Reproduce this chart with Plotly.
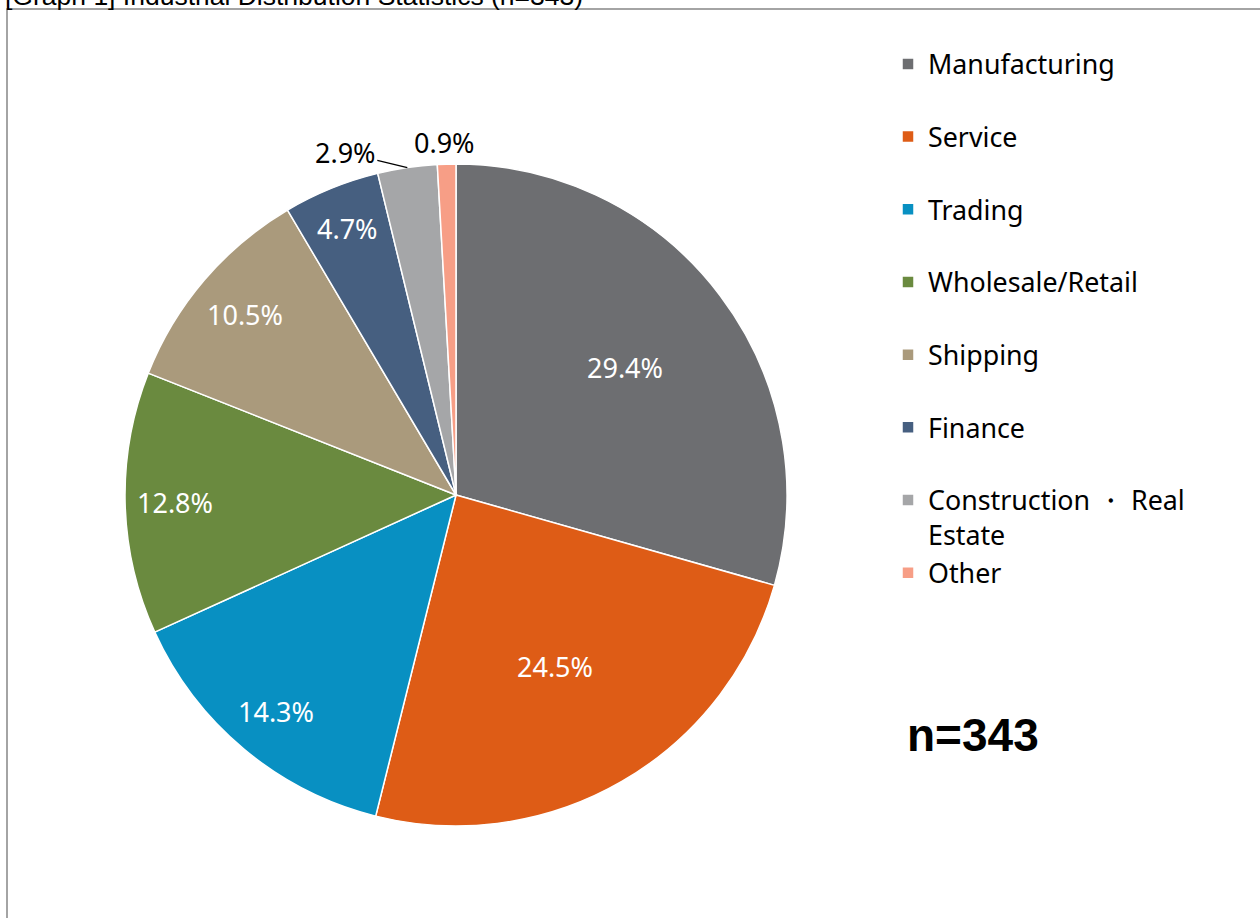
import math
import plotly.graph_objects as go

categories = ["Manufacturing", "Service", "Trading", "Wholesale/Retail", "Shipping",
              "Finance", "Construction ・ Real Estate", "Other"]
shares = [29.4, 24.5, 14.3, 12.8, 10.5, 4.7, 2.9, 0.9]
colors = ["#6D6E71", "#DE5C16", "#0890C2", "#6A8A3F", "#AA9A7C", "#465F80", "#A5A6A8", "#F79E86"]
label_text = [f"{v:.1f}%" for v in shares]
title_text = "[Graph 1] Industrial Distribution Statistics (n=343)"
n_text = "n=343"

W, H = 1260, 918
cx, cy, r = 456, 495, 331  # pie centre / radius in pixels (layout)

# label placement style: radius fraction for inside labels, outside offsets for small slices
label_radius = [0.64, 0.60, 0.85, 0.85, 0.84, 0.87, None, None]
outside_offset = {6: (-62, -15), 7: (-2, -22)}
outside_arrow = {6: True, 7: False}

legend_labels = []
for c in categories:
    if "Real Estate" in c:
        legend_labels.append(c.replace(" Real Estate", " Real<br>Estate"))
    else:
        legend_labels.append(c + "<br> ")

fig = go.Figure(go.Pie(
    labels=legend_labels,
    values=shares,
    textinfo="none",
    sort=False,
    direction="clockwise",
    rotation=0,
    marker=dict(colors=colors, line=dict(color="white", width=1.5)),
    domain=dict(x=[(cx - r) / W, (cx + r) / W], y=[(H - cy - r) / H, (H - cy + r) / H]),
    hoverinfo="label+percent",
))

annotations = []
total = sum(shares)
cum = 0.0
for i, v in enumerate(shares):
    mid = (cum + v / 2) / total * 2 * math.pi
    cum += v
    s, c = math.sin(mid), math.cos(mid)
    if label_radius[i] is not None:
        f = label_radius[i]
        px, py = cx + f * r * s, cy - f * r * c
        annotations.append(dict(text=label_text[i], xref="paper", yref="paper",
                                x=px / W, y=1 - py / H, xanchor="center", yanchor="middle",
                                showarrow=False,
                                font=dict(family="Noto Sans", size=27, color="white")))
    else:
        px, py = cx + r * s, cy - r * c
        dx, dy = outside_offset[i]
        if outside_arrow[i]:
            annotations.append(dict(text=label_text[i], xref="paper", yref="paper",
                                    x=px / W, y=1 - py / H, ax=dx, ay=dy,
                                    showarrow=True, arrowhead=0, arrowwidth=1.2,
                                    arrowcolor="black", standoff=0,
                                    xanchor="center", yanchor="middle",
                                    font=dict(family="Noto Sans", size=27, color="black")))
        else:
            annotations.append(dict(text=label_text[i], xref="paper", yref="paper",
                                    x=px / W, y=1 - py / H, xshift=dx, yshift=-dy,
                                    showarrow=False, xanchor="center", yanchor="middle",
                                    font=dict(family="Noto Sans", size=27, color="black")))

annotations += [
    dict(text=title_text, xref="paper", yref="paper", x=3 / W, y=1 + 4.5 / H,
         xanchor="left", yanchor="middle", showarrow=False,
         font=dict(family="Liberation Sans, Arial", size=26.5, color="black")),
    dict(text=f"<b>{n_text}</b>", xref="paper", yref="paper", x=905 / W, y=1 - 735 / H,
         xanchor="left", yanchor="middle", showarrow=False,
         font=dict(family="Liberation Sans, Arial", size=46, color="black")),
]

fig.update_layout(
    width=W, height=H,
    margin=dict(l=0, r=0, t=0, b=0),
    paper_bgcolor="white",
    showlegend=True,
    legend=dict(
        x=888 / W, y=1 - 40 / H, xanchor="left", yanchor="top",
        font=dict(family="Noto Sans", size=26.8, color="black"),
        valign="top", bgcolor="rgba(0,0,0,0)",
    ),
    shapes=[dict(type="rect", xref="paper", yref="paper",
                 x0=7 / W, x1=1.02, y0=-0.02, y1=1 - 9 / H,
                 line=dict(color="#868686", width=1.5), fillcolor="rgba(0,0,0,0)")],
    annotations=annotations,
)

fig.write_html("out.html", config={"displayModeBar": False},
               post_script="document.body.style.margin='0px';")
